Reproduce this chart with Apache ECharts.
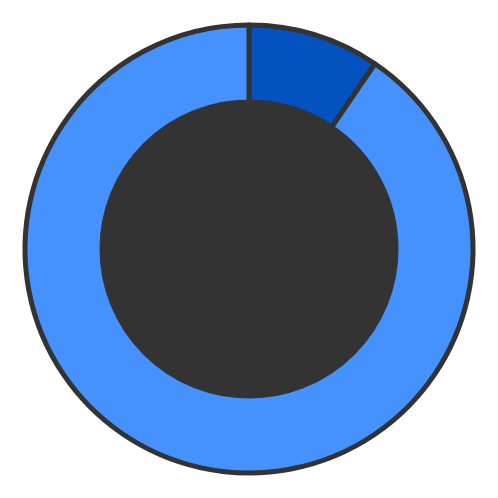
<!DOCTYPE html>
<html><head><meta charset="utf-8">
<script src="https://cdn.jsdelivr.net/npm/echarts@6/dist/echarts.min.js"></script>
<style>html,body{margin:0;padding:0;background:#fff}#c{width:498px;height:498px}</style>
</head><body><div id="c"></div>
<script>
const categories = ['A', 'B'];
const values = [9.5, 90.5];
const colors = ['#0452C0', '#4592FF'];
const chart = echarts.init(document.getElementById('c'), null, {renderer: 'canvas'});
chart.setOption({
  animation: false,
  series: [
    {
      type: 'pie', center: [249, 249], radius: [0, 147], silent: true,
      label: {show: false}, labelLine: {show: false},
      data: [{value: 1, name: 'bg', itemStyle: {color: '#333333'}}]
    },
    {
      type: 'pie', center: [249, 249], radius: [147, 224], startAngle: 90, clockwise: true,
      label: {show: false}, labelLine: {show: false},
      itemStyle: {borderColor: '#333333', borderWidth: 5},
      data: categories.map((c, i) => ({name: c, value: values[i], itemStyle: {color: colors[i]}}))
    }
  ]
});
</script></body></html>
